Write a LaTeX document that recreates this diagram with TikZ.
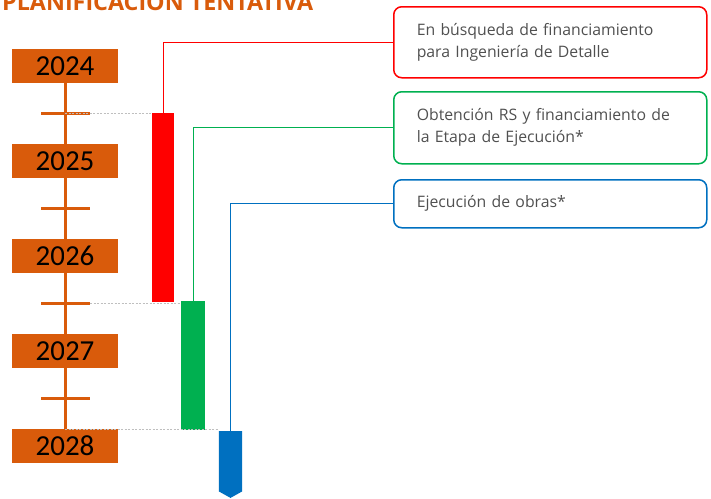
\documentclass[tikz,border=0pt]{standalone}
\usepackage{fontspec}
\setmainfont{Open Sans}
\newfontfamily\yearfont{Carlito}
\definecolor{orng}{HTML}{D95B0B}
\definecolor{bred}{HTML}{FF0000}
\definecolor{bgreen}{HTML}{00B050}
\definecolor{bblue}{HTML}{0070C0}
\definecolor{txtgray}{HTML}{505050}
\definecolor{dotgray}{HTML}{BFBFBF}
\begin{document}
\begin{tikzpicture}[x=1pt,y=-1pt,
  yearbox/.style={fill=orng, minimum width=106pt, minimum height=34pt, inner sep=0pt,
    font=\yearfont\fontsize{29}{29}\selectfont, text=black},
  axisline/.style={draw=orng, line width=3pt},
  tickline/.style={draw=orng, line width=3pt},
  dotline/.style={draw=dotgray, line width=1pt, dash pattern=on 2pt off 1.5pt},
  barbox/.style={inner sep=0pt, anchor=north},
  infobox/.style={draw, line width=1.5pt, rounded corners=8pt, anchor=north west,
    inner xsep=23pt, inner ysep=0pt, text width=267pt, align=left, text=txtgray,
    font=\fontsize{15.8}{22}\selectfont},
  conn/.style={line width=1pt}
]
\useasboundingbox (0,0) rectangle (711,498);
% title
\node[anchor=base west, inner sep=0pt, text=orng, font=\bfseries\fontsize{23.3}{23.3}\selectfont] (title) at (2,10.5) {PLANIFICACIÓN TENTATIVA};
% years
\node[yearbox] (y2024) at (65,66) {2024};
\node[yearbox] (y2025) at (65,161) {2025};
\node[yearbox] (y2026) at (65,256) {2026};
\node[yearbox] (y2027) at (65,351) {2027};
\node[yearbox] (y2028) at (65,446) {2028};
\draw[axisline] (y2024.south) -- (y2028.north);
% ticks
\coordinate (t1) at (65,113);
\coordinate (t2) at (65,208);
\coordinate (t3) at (65,303);
\coordinate (t4) at (65,398);
\coordinate (t5) at (65,429.5);
\foreach \t in {t1,t2,t3,t4}{\draw[tickline] ([xshift=-24pt]\t) -- ([xshift=25pt]\t);}
% bars
\node[barbox, fill=bred, minimum width=22pt, minimum height=189pt] (rbar) at (163,113) {};
\node[barbox, fill=bgreen, minimum width=24pt, minimum height=129.5pt] (gbar) at (193,300.5) {};
\node[barbox, minimum width=23pt, minimum height=60pt] (bbar) at (230.5,431) {};
\fill[bblue] (bbar.north west) -- (bbar.south west) -- ([yshift=-6.5pt]bbar.south) -- (bbar.south east) -- (bbar.north east) -- cycle;
% dotted guides
\draw[dotline] (t1) -- (rbar.north west);
\draw[dotline] ([xshift=25pt]t3) -- (gbar.west |- t3);
\draw[dotline] (t5) -- (bbar.north west |- t5);
% info boxes
\node[infobox, draw=bred, minimum height=71pt] (rbox) at (393,6) {En búsqueda de financiamiento\\para Ingeniería de Detalle};
\node[infobox, draw=bgreen, minimum height=72pt] (gbox) at (393,91) {Obtención RS y financiamiento de\\la Etapa de Ejecución*};
\node[infobox, draw=bblue, minimum height=48pt] (bbox) at (393,179) {Ejecución de obras*};
% connectors
\draw[conn, bred] (rbar.north) |- (rbox.west);
\draw[conn, bgreen] (gbar.north) |- (gbox.west);
\draw[conn, bblue] (bbar.north) |- (bbox.west);
\end{tikzpicture}
\end{document}
